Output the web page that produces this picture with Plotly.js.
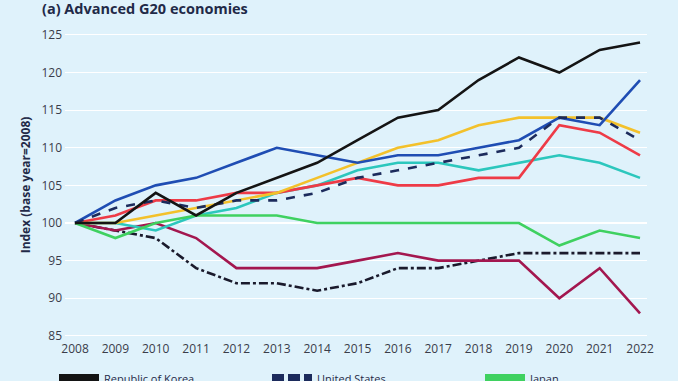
<!DOCTYPE html>
<html>
<head>
<meta charset="utf-8">
<script src="https://cdn.plot.ly/plotly-3.0.1.min.js"></script>
<style>
html,body{margin:0;padding:0;background:#dff2fb;}
#chart{width:678px;height:381px;}
</style>
</head>
<body>
<div id="chart"></div>
<script>
const years = [2008,2009,2010,2011,2012,2013,2014,2015,2016,2017,2018,2019,2020,2021,2022];

const korea     = [100,100,104,101,104,106,108,111,114,115,119,122,120,123,124];
const usa       = [100,102,103,102,103,103,104,106,107,108,109,110,114,114,111];
const japan     = [100,98,100,101,101,101,100,100,100,100,100,100,97,99,98];
const canada    = [100,103,105,106,108,110,109,108,109,109,110,111,114,113,119];
const germany   = [100,100,101,102,103,104,106,108,110,111,113,114,114,114,112];
const france    = [100,101,103,103,104,104,105,106,105,105,106,106,113,112,109];
const australia = [100,100,99,101,102,104,105,107,108,108,107,108,109,108,106];
const italy     = [100,99,100,98,94,94,94,95,96,95,95,95,90,94,88];
const uk        = [100,99,98,94,92,92,91,92,94,94,95,96,96,96,96];

const seriesNames = ["Republic of Korea","United States","Japan","Canada","Germany","France","Australia","Italy","United Kingdom"];
const seriesData  = [korea, usa, japan, canada, germany, france, australia, italy, uk];
const seriesColors = ["#141414","#1c2b5c","#3fd160","#1f4db3","#f3c12b","#ee3b47","#2cc7bd","#a3174f","#1a1a2c"];
const seriesDash   = ["solid","dash","solid","solid","solid","solid","solid","solid","dashdot"];
const legendDash   = ["solid","12px,4px","solid","solid","solid","solid","solid","solid","14px,4px,4px,4px"];

// data lines (Korea drawn last so it sits on top)
const order = [8,7,6,5,4,3,2,1,0];
const lineTraces = order.map(i=>({
  type:"scatter", mode:"lines", name:seriesNames[i], x:years, y:seriesData[i],
  line:{color:seriesColors[i], width:2.6, dash:seriesDash[i]},
  showlegend:false, hoverinfo:"skip"
}));
// legend entries with thick swatches
const legendTraces = seriesNames.map((n,i)=>({
  type:"scatter", mode:"lines", name:n, x:[null], y:[null],
  line:{color:seriesColors[i], width:10, dash:legendDash[i]},
  showlegend:true, hoverinfo:"skip"
}));

const layout = {
  width:678, height:381,
  paper_bgcolor:"#dff2fb", plot_bgcolor:"#dff2fb",
  margin:{l:65, r:31, t:30, b:41, autoexpand:false},
  font:{family:"Open Sans, Noto Sans, sans-serif", size:12, color:"#3a3d4a"},
  title:{text:"<b>(a) Advanced G20 economies</b>", xref:"container", x:42/678, xanchor:"left",
         yref:"container", y:1-9/381, yanchor:"middle",
         font:{size:14.5, color:"#1f2a48", family:"Open Sans, Noto Sans, sans-serif"}},
  xaxis:{range:[2007.752,2022.173], tickmode:"array", tickvals:years, ticktext:years.map(String),
         showgrid:false, zeroline:false, showline:false, ticks:"", tickfont:{size:12,color:"#3a3d4a"}},
  yaxis:{range:[84.45,125.65], tickmode:"array", tickvals:[85,90,95,100,105,110,115,120,125],
         showgrid:true, gridcolor:"#ffffff", gridwidth:1.2, zeroline:false, showline:false, ticks:"",
         ticklabelstandoff:2, tickfont:{size:12,color:"#3a3d4a"},
         title:{text:"<b>Index (base year=2008)</b>", standoff:8, font:{size:12,color:"#1f2a48"}}},
  showlegend:true,
  legend:{orientation:"h", x:-0.0189, xanchor:"left", y:-0.079, yanchor:"top",
          entrywidth:158, entrywidthmode:"pixels", traceorder:"normal",
          bgcolor:"rgba(0,0,0,0)", font:{size:11,color:"#1f2a48"}, itemwidth:40}
};

Plotly.newPlot("chart", lineTraces.concat(legendTraces), layout, {displayModeBar:false, staticPlot:true});
</script>
</body>
</html>
